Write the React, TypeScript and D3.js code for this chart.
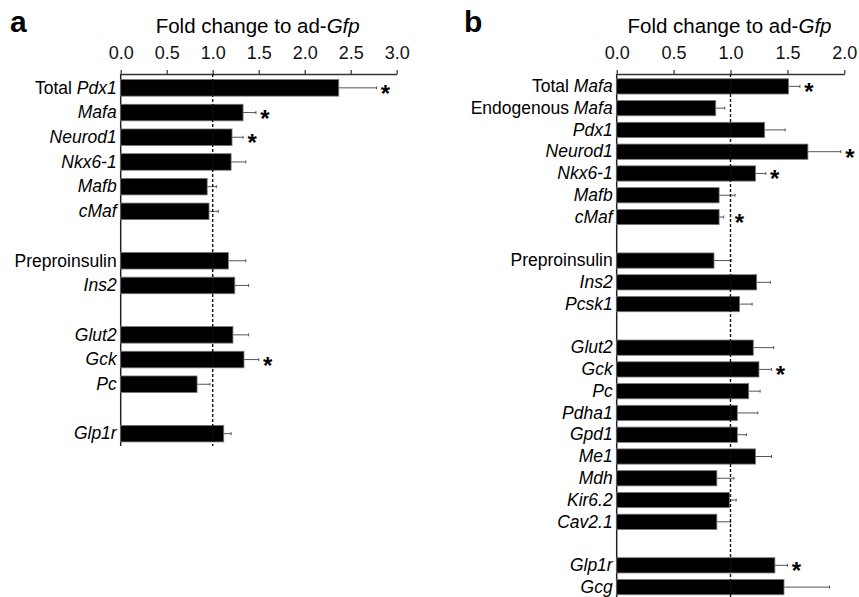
import React, { useEffect, useRef } from 'react';
import * as d3 from 'd3';

// "roman|italic" label parts; empty string = spacer row
const labelsA = [
  'Total |Pdx1', '|Mafa', '|Neurod1', '|Nkx6-1', '|Mafb', '|cMaf', '',
  'Preproinsulin|', '|Ins2', '',
  '|Glut2', '|Gck', '|Pc', '',
  '|Glp1r',
];
const valuesA = [2.37, 1.33, 1.21, 1.2, 0.94, 0.96, null, 1.17, 1.24, null, 1.22, 1.34, 0.83, null, 1.12];
const errorsA = [0.41, 0.14, 0.12, 0.16, 0.1, 0.1, null, 0.19, 0.15, null, 0.17, 0.16, 0.14, null, 0.08];
const starsA = [1, 1, 1, 0, 0, 0, 0, 0, 0, 0, 0, 1, 0, 0, 0];
const ticksA = [0, 0.5, 1, 1.5, 2, 2.5, 3];

const labelsB = [
  'Total |Mafa', 'Endogenous |Mafa', '|Pdx1', '|Neurod1', '|Nkx6-1', '|Mafb', '|cMaf', '',
  'Preproinsulin|', '|Ins2', '|Pcsk1', '',
  '|Glut2', '|Gck', '|Pc', '|Pdha1', '|Gpd1', '|Me1', '|Mdh', '|Kir6.2', '|Cav2.1', '',
  '|Glp1r', '|Gcg',
];
const valuesB = [1.51, 0.87, 1.3, 1.68, 1.22, 0.9, 0.9, null, 0.855, 1.23, 1.08, null, 1.2, 1.25, 1.16, 1.06, 1.06, 1.22, 0.88, 0.99, 0.88, null, 1.39, 1.47];
const errorsB = [0.1, 0.08, 0.18, 0.29, 0.09, 0.14, 0.04, null, 0.15, 0.12, 0.11, null, 0.18, 0.11, 0.1, 0.18, 0.08, 0.14, 0.15, 0.06, 0.12, null, 0.11, 0.4];
const starsB = [1, 0, 0, 1, 1, 0, 1, 0, 0, 0, 0, 0, 0, 1, 0, 0, 0, 0, 0, 0, 0, 0, 1, 0];
const ticksB = [0, 0.5, 1, 1.5, 2];

const FONT = '"Liberation Sans", Arial, Helvetica, sans-serif';

type PanelCfg = {
  letter: string;
  letterX: number;
  labels: string[];
  values: (number | null)[];
  errors: (number | null)[];
  stars: number[];
  ticks: number[];
  x0: number;
  x1: number;
  bottom: number;
  pad: number;
};

function drawPanel(svg: d3.Selection<SVGSVGElement, unknown, null, undefined>, cfg: PanelCfg) {
  const axisY = 74;
  const g = svg.append('g');
  const x = d3.scaleLinear().domain([0, cfg.ticks[cfg.ticks.length - 1]]).range([cfg.x0, cfg.x1]);
  const y = d3
    .scaleBand<number>()
    .domain(d3.range(cfg.labels.length))
    .range([axisY + 1.5, cfg.bottom])
    .paddingInner(cfg.pad)
    .paddingOuter(cfg.pad / 2);

  // panel letter
  g.append('text')
    .attr('x', cfg.letterX)
    .attr('y', 32)
    .attr('font-size', 30)
    .attr('font-weight', 'bold')
    .text(cfg.letter);

  // title
  const title = g
    .append('text')
    .attr('x', (cfg.x0 + cfg.x1) / 2 - 1)
    .attr('y', 33)
    .attr('text-anchor', 'middle')
    .attr('font-size', 20.5);
  title.append('tspan').text('Fold change to ad-');
  title.append('tspan').attr('font-style', 'italic').text('Gfp');

  // top axis
  const axis = d3
    .axisTop(x)
    .tickValues(cfg.ticks)
    .tickFormat(d3.format('.1f'))
    .tickSize(4)
    .tickSizeOuter(0)
    .tickPadding(11);
  const ax = g.append('g').attr('transform', `translate(0,${axisY})`).call(axis);
  ax.select('.domain').attr('stroke', '#333').attr('stroke-width', 1.3);
  ax.selectAll('.tick line').attr('stroke', '#333').attr('stroke-width', 1.2);
  ax.selectAll('.tick text')
    .attr('font-size', 18)
    .attr('font-family', FONT)
    .attr('fill', '#111');

  // vertical axis line
  g.append('line')
    .attr('x1', cfg.x0)
    .attr('x2', cfg.x0)
    .attr('y1', axisY)
    .attr('y2', cfg.bottom)
    .attr('stroke', '#222')
    .attr('stroke-width', 1.5);

  const rows = cfg.labels.map((l, i) => ({
    i,
    label: l,
    v: cfg.values[i],
    e: cfg.errors[i],
    star: cfg.stars[i],
  }));
  const data = rows.filter((d) => d.v != null) as { i: number; label: string; v: number; e: number; star: number }[];
  const cy = (i: number) => y(i)! + y.bandwidth() / 2;

  // error bars
  g.selectAll('line.err')
    .data(data)
    .join('line')
    .attr('class', 'err')
    .attr('x1', (d) => x(d.v))
    .attr('x2', (d) => x(d.v + d.e))
    .attr('y1', (d) => cy(d.i))
    .attr('y2', (d) => cy(d.i))
    .attr('stroke', '#555')
    .attr('stroke-width', 1);
  g.selectAll('line.cap')
    .data(data)
    .join('line')
    .attr('class', 'cap')
    .attr('x1', (d) => x(d.v + d.e))
    .attr('x2', (d) => x(d.v + d.e))
    .attr('y1', (d) => cy(d.i) - 1.5)
    .attr('y2', (d) => cy(d.i) + 1.5)
    .attr('stroke', '#555')
    .attr('stroke-width', 1);

  // bars
  g.selectAll('rect.bar')
    .data(data)
    .join('rect')
    .attr('class', 'bar')
    .attr('x', x(0))
    .attr('y', (d) => y(d.i)!)
    .attr('width', (d) => x(d.v) - x(0))
    .attr('height', y.bandwidth())
    .attr('fill', '#000')
    .attr('stroke', '#777')
    .attr('stroke-width', 0.8);

  // dashed reference at 1.0
  g.append('line')
    .attr('x1', x(1))
    .attr('x2', x(1))
    .attr('y1', axisY)
    .attr('y2', cfg.bottom)
    .attr('stroke', '#111')
    .attr('stroke-width', 1.4)
    .attr('stroke-dasharray', '3,2');

  // significance stars
  g.selectAll('text.star')
    .data(data.filter((d) => d.star))
    .join('text')
    .attr('class', 'star')
    .attr('x', (d) => Math.max(x(d.v + d.e), x(1)) + 9)
    .attr('y', (d) => cy(d.i) + 14)
    .attr('text-anchor', 'middle')
    .attr('font-size', 24)
    .attr('font-weight', 'bold')
    .text('*');

  // category labels
  const lab = g
    .selectAll('text.lab')
    .data(rows.filter((d) => d.label))
    .join('text')
    .attr('class', 'lab')
    .attr('x', cfg.x0 - 4)
    .attr('y', (d) => cy(d.i))
    .attr('dy', '0.33em')
    .attr('text-anchor', 'end')
    .attr('font-size', 17.5);
  lab.each(function (d) {
    const [roman, ital] = d.label.split('|');
    const t = d3.select(this);
    if (roman) t.append('tspan').text(roman);
    if (ital) t.append('tspan').attr('font-style', 'italic').text(ital);
  });
}

export default function App() {
  const ref = useRef<SVGSVGElement>(null);

  useEffect(() => {
    const svg = d3.select(ref.current!);
    svg.selectAll('*').remove();
    svg.append('rect').attr('width', 859).attr('height', 597).attr('fill', '#fff');

    drawPanel(svg, {
      letter: 'a',
      letterX: 10,
      labels: labelsA,
      values: valuesA,
      errors: errorsA,
      stars: starsA,
      ticks: ticksA,
      x0: 120.7,
      x1: 396.7,
      bottom: 446,
      pad: 0.33,
    });
    drawPanel(svg, {
      letter: 'b',
      letterX: 464,
      labels: labelsB,
      values: valuesB,
      errors: errorsB,
      stars: starsB,
      ticks: ticksB,
      x0: 616.7,
      x1: 844.3,
      bottom: 598,
      pad: 0.3,
    });
  }, []);

  return (
    <svg
      ref={ref}
      width={859}
      height={597}
      style={{ position: 'absolute', left: 0, top: 0, fontFamily: FONT }}
      fontFamily={FONT}
    />
  );
}
